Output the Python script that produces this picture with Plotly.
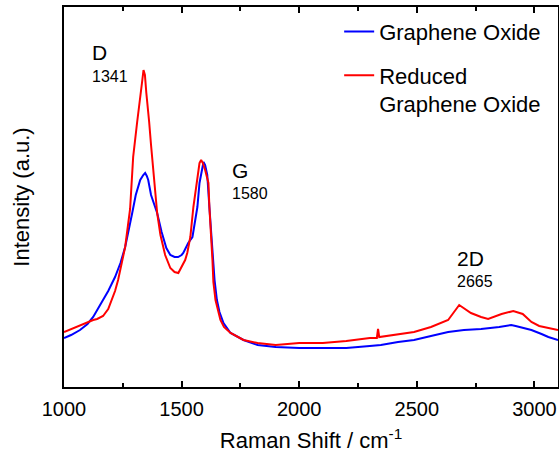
import plotly.graph_objects as go

# Graphene Oxide (blue) - Raman shift (cm^-1) and intensity (a.u.)
go_shift = [1000, 1030, 1068, 1100, 1124, 1141, 1166, 1188, 1217, 1240, 1260, 1275, 1290, 1305,
            1324, 1337, 1345, 1352, 1358, 1370, 1385, 1396, 1415, 1435, 1452, 1470, 1485, 1500,
            1507, 1528, 1546, 1567, 1576, 1585, 1593, 1600, 1609, 1618, 1627, 1635, 1640, 1650,
            1661, 1678, 1708, 1763, 1823, 1900, 2000, 2100, 2200, 2300, 2347, 2420, 2488, 2560,
            2633, 2700, 2773, 2850, 2901, 2920, 2987, 3030, 3059, 3100]
go_int = [49, 52, 57, 63, 70, 77, 86, 96, 110, 124, 140, 159, 174, 192,
          207, 212, 214, 211, 207, 192, 182, 174, 155, 139, 132, 130, 130, 132,
          134, 144, 150, 180, 204, 217, 225, 222, 212, 180, 150, 127, 107, 87,
          75, 64, 54, 47, 42, 40, 39, 39, 39, 41, 42, 45, 47, 51,
          55, 57, 58, 60, 62, 61, 57, 53, 50, 47]

# Reduced Graphene Oxide (red)
rgo_shift = [1000, 1030, 1068, 1100, 1124, 1141, 1166, 1188, 1200, 1217, 1230, 1260, 1281, 1294,
             1311, 1324, 1333, 1338, 1344, 1350, 1358, 1362, 1370, 1375, 1385, 1396, 1410, 1430,
             1452, 1470, 1486, 1500, 1515, 1524, 1537, 1550, 1563, 1576, 1583, 1590, 1600, 1614,
             1618, 1627, 1631, 1635, 1644, 1665, 1680, 1708, 1763, 1823, 1900, 2000, 2100, 2200,
             2300, 2330, 2335, 2340, 2420, 2488, 2560, 2633, 2680, 2730, 2773, 2803, 2860, 2910,
             2950, 2987, 3020, 3059, 3100]
rgo_int = [55, 58, 62, 65, 67, 68, 71, 78, 85, 96, 107, 140, 178, 230,
           265, 294, 307, 317, 312, 294, 277, 265, 242, 230, 202, 174, 152, 132,
           119, 115, 114, 121, 127, 134, 150, 180, 204, 224, 227, 224, 217, 204,
           180, 150, 127, 105, 87, 67, 60, 54, 47, 44, 42, 44, 44, 46,
           49, 49, 58, 50, 53, 55, 60, 67, 82, 74, 70, 68, 73, 76,
           73, 65, 61, 59, 57]

x_ticks = [1000, 1500, 2000, 2500, 3000]

peak_labels = ["D", "G", "2D"]
peak_values = ["1341", "1580", "2665"]
label_x = [1119, 1716, 2671]
label_y = [335, 217, 129]
value_y = [311, 194, 106]

fig = go.Figure()
fig.add_trace(go.Scatter(x=go_shift, y=go_int, mode="lines", name="Graphene Oxide",
                         legendgroup="a", line=dict(color="#0000FF", width=2)))
fig.add_trace(go.Scatter(x=rgo_shift, y=rgo_int, mode="lines", name="Reduced<br>Graphene Oxide",
                         legendgroup="b", line=dict(color="#FF0000", width=2)))

font_family = "Liberation Sans, Arial, sans-serif"
for lab, val, lx, ly, vy in zip(peak_labels, peak_values, label_x, label_y, value_y):
    fig.add_annotation(x=lx, y=ly, xref="x", yref="y", text=lab, showarrow=False,
                       xanchor="left", yanchor="middle", xshift=-2,
                       font=dict(size=21, color="black", family=font_family))
    fig.add_annotation(x=lx, y=vy, xref="x", yref="y", text=val, showarrow=False,
                       xanchor="left", yanchor="middle", xshift=-2,
                       font=dict(size=16, color="black", family=font_family))

fig.update_layout(
    width=559, height=457,
    margin=dict(l=64, r=1, t=7, b=70, autoexpand=False),
    paper_bgcolor="white", plot_bgcolor="white",
    font=dict(family=font_family, size=20, color="black"),
    legend=dict(x=0.557, y=0.99, xanchor="left", yanchor="top", bgcolor="rgba(0,0,0,0)",
                font=dict(size=22, family=font_family), valign="top", tracegroupgap=12),
    xaxis=dict(range=[1000, 3100], tickvals=x_ticks, ticktext=[str(t) for t in x_ticks],
               ticks="inside", ticklen=6, tickwidth=1.5, tickcolor="black",
               showline=True, linecolor="black", linewidth=2, mirror="ticks",
               showgrid=False, zeroline=False, automargin=False, ticklabelstandoff=3,
               minor=dict(dtick=250, tick0=1000, ticks="inside", ticklen=4, tickwidth=1.5, tickcolor="black"),
               title=dict(text="Raman Shift / cm<sup>-1</sup>", font=dict(size=22, family=font_family), standoff=14),
               tickfont=dict(size=20, family=font_family)),
    yaxis=dict(range=[0, 380], showticklabels=False, ticks="",
               showline=True, linecolor="black", linewidth=2, mirror=True,
               showgrid=False, zeroline=False, automargin=False,
               title=dict(text="Intensity (a.u.)", font=dict(size=22, family=font_family), standoff=26)),
)

fig.write_html("out.html", config={"displayModeBar": False},
               post_script="document.body.style.margin='0';document.body.style.padding='0';"
                           "document.body.style.overflow='hidden';")
